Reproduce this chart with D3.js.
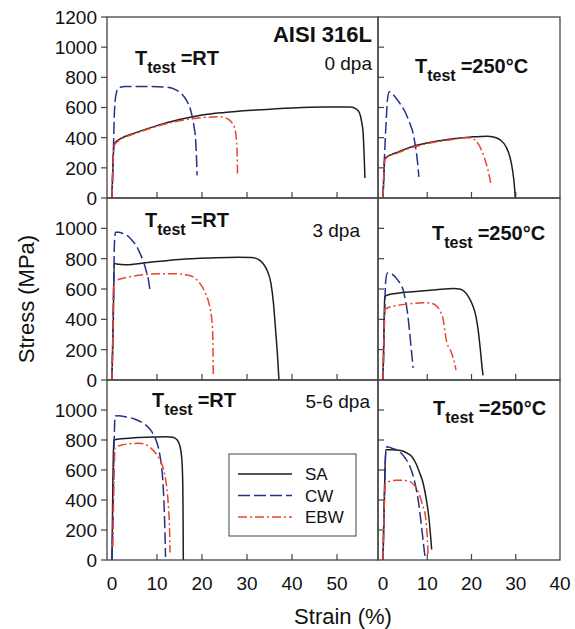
<!DOCTYPE html>
<html>
<head>
<meta charset="utf-8">
<script src="https://cdn.jsdelivr.net/npm/d3@7"></script>
<style>
  body { margin: 0; background: #fff; }
  text { font-family: "Liberation Sans", Arial, sans-serif; fill: #111; }
</style>
</head>
<body>
<div class="chart"></div>
<script>
// strain (%) , stress (MPa)
// 0 dpa
var sa0RT  = [[0,0],[0.2,200],[0.5,360],[2,395],[5,430],[10,480],[15,520],[20,550],[25,567],[32,583],[40,597],[47,603],[53,603],[54.3,590],[55,563],[55.5,500],[55.8,430],[56,300],[56.2,132]];
var cw0RT  = [[0,0],[0.3,300],[0.6,600],[1,700],[1.5,730],[3,740],[8,740],[12,735],[14,720],[15.5,690],[16.5,650],[17.5,580],[18.2,480],[18.6,380],[18.8,250],[18.9,150]];
var ebw0RT = [[0,0],[0.2,200],[0.5,350],[2,390],[5,425],[10,475],[15,512],[20,533],[24,538],[25.5,528],[26.5,505],[27.2,470],[27.6,400],[27.8,300],[27.9,140]];
var sa0HT  = [[0,0],[0.2,150],[0.4,260],[1,275],[3,300],[6,335],[10,365],[15,390],[20,405],[23.5,410],[25,405],[26.5,385],[27.8,340],[28.7,270],[29.3,180],[29.7,80],[29.9,0]];
var cw0HT  = [[0,0],[0.3,250],[0.7,500],[1,650],[1.4,705],[2,695],[3,660],[4,620],[5,570],[6,500],[6.8,430],[7.4,330],[7.8,240],[8.1,140]];
var ebw0HT = [[0,0],[0.2,150],[0.4,250],[1,270],[3,295],[6,330],[10,360],[15,385],[19,400],[20.5,390],[21.5,360],[22.5,300],[23.3,230],[24,150],[24.4,90]];
// 3 dpa
var sa3RT  = [[0,0],[0.3,400],[0.5,770],[1,765],[3,760],[8,775],[15,795],[22,805],[28,810],[31,808],[32.5,795],[33.5,770],[34.5,720],[35.3,640],[35.9,500],[36.3,350],[36.8,150],[37.1,0]];
var cw3RT  = [[0,0],[0.2,300],[0.4,650],[0.55,900],[0.8,975],[1.5,975],[2.5,965],[3.5,950],[4.5,920],[5.5,880],[6.3,830],[7,780],[7.6,720],[8.1,660],[8.4,600]];
var ebw3RT = [[0,0],[0.2,300],[0.4,640],[1,655],[3,675],[6,690],[10,700],[14,700],[17,690],[18.5,670],[19.7,630],[20.8,570],[21.6,500],[22.1,420],[22.4,300],[22.5,20]];
var sa3HT  = [[0,0],[0.2,300],[0.4,550],[1,560],[4,575],[8,585],[12,595],[16,603],[17.5,598],[18.5,580],[19.5,540],[20.3,490],[21,420],[21.5,330],[22,200],[22.4,80],[22.6,30]];
var cw3HT  = [[0,0],[0.3,350],[0.6,650],[1,705],[1.8,700],[2.6,685],[3.3,660],[4,630],[4.6,590],[5.1,520],[5.6,430],[6,320],[6.4,200],[6.8,80]];
var ebw3HT = [[0,0],[0.2,250],[0.4,465],[1,475],[3,490],[6,502],[9,510],[11,505],[12,490],[13,450],[13.6,400],[14,320],[14.4,250],[15,210],[15.6,170],[16.1,120],[16.5,65]];
// 5-6 dpa
var sa6RT  = [[0,0],[0.2,500],[0.4,800],[2,808],[5,815],[9,820],[12,822],[13.5,818],[14.5,800],[15.1,760],[15.5,680],[15.7,550],[15.8,300],[15.85,0]];
var cw6RT  = [[0,0],[0.3,400],[0.5,800],[0.7,960],[1.5,962],[3,955],[5,940],[7,910],[8.5,870],[9.5,820],[10.3,750],[10.9,650],[11.3,530],[11.6,350],[11.8,150],[11.9,20]];
var ebw6RT = [[0.2,90],[0.3,300],[0.5,600],[0.7,750],[2,765],[4,775],[6,778],[7.5,770],[8.5,750],[9.5,720],[10.5,675],[11.3,620],[11.9,540],[12.3,450],[12.6,330],[12.8,200],[12.9,50]];
var sa6HT  = [[0,0],[0.3,400],[0.6,735],[2,735],[4,730],[5.3,715],[6.5,690],[7.5,640],[8.3,580],[9,520],[9.7,420],[10.3,300],[10.7,180],[11,70]];
var cw6HT  = [[0,0],[0.3,400],[0.6,700],[0.9,755],[2,745],[3,735],[4,715],[5,680],[6,630],[7,540],[7.6,460],[8.1,370],[8.6,250],[9.1,120],[9.5,20]];
var ebw6HT = [[0,0],[0.2,250],[0.5,510],[1.5,525],[3,532],[5,530],[6.5,515],[7.5,480],[8.3,430],[9,360],[9.6,290],[9.9,200],[10.1,100],[10.2,20]];

var seriesNames = ["SA", "CW", "EBW"];
var dpaLabels = ["0 dpa", "3 dpa", "5-6 dpa"];
var tempLabels = ["RT", "250°C"];
var xTicksLeft = [0, 10, 20, 30, 40, 50];
var xTicksRight = [0, 10, 20, 30, 40];
var yTicksTop = [0, 200, 400, 600, 800, 1000, 1200];
var yTicksRest = [0, 200, 400, 600, 800, 1000];

var curves = [
  [[sa0RT, cw0RT, ebw0RT], [sa0HT, cw0HT, ebw0HT]],
  [[sa3RT, cw3RT, ebw3RT], [sa3HT, cw3HT, ebw3HT]],
  [[sa6RT, cw6RT, ebw6RT], [sa6HT, cw6HT, ebw6HT]]
];

var colors = { SA: "#1e1e1e", CW: "#23328a", EBW: "#e8452c" };
var dashes = { SA: null, CW: "12,4", EBW: "9,3,2,3" };

var svg = d3.select('.chart').append('svg')
  .attr('width', 575).attr('height', 629);

var rowTop = [17, 198, 380], rowBot = [198, 380, 560];
var xLeft = d3.scaleLinear().domain([-1.1, 59.1]).range([107, 378]);
var xRight = d3.scaleLinear().domain([-1.13, 40]).range([378, 560]);
var xs = [xLeft, xRight];

// label offsets (px) for temperature tags, per row / column
var tagPos = [[[135, 65], [415, 73]], [[145, 227], [432, 240]], [[152, 407], [433, 415]]];
var dpaPos = [[372, 70], [360, 237], [370, 408]];

for (var r = 0; r < 3; r++) {
  var y = d3.scaleLinear().domain([0, 1200]).range([rowBot[r], rowTop[r]]);
  var yt = r == 0 ? yTicksTop : yTicksRest;

  for (var c = 0; c < 2; c++) {
    var x = xs[c];
    var g = svg.append('g');
    var x0 = x.range()[0], x1 = x.range()[1];

    // x ticks inside
    var xt = c == 0 ? xTicksLeft : xTicksRight;
    g.selectAll('.xt').data(xt.filter(function(d) { return d > 0 && x(d) < x1 - 2; }))
      .enter().append('line')
      .attr('x1', function(d) { return x(d); }).attr('x2', function(d) { return x(d); })
      .attr('y1', rowBot[r]).attr('y2', rowBot[r] - 6)
      .attr('stroke', '#444').attr('stroke-width', 1.2);

    if (c == 0) {
      // y ticks outside with labels
      g.selectAll('.yt').data(yt).enter().append('line')
        .attr('x1', x0 - 6).attr('x2', x0)
        .attr('y1', function(d) { return y(d); }).attr('y2', function(d) { return y(d); })
        .attr('stroke', '#444').attr('stroke-width', 1.2);
      g.selectAll('.yl').data(yt).enter().append('text')
        .attr('x', 97).attr('y', function(d) { return y(d); })
        .attr('dy', '0.36em').attr('text-anchor', 'end')
        .style('font-size', '19px')
        .text(function(d) { return d; });
    } else {
      g.selectAll('.yt').data(yt.filter(function(d) { return d > 0 && d < 1200; })).enter().append('line')
        .attr('x1', x0).attr('x2', x0 + 6)
        .attr('y1', function(d) { return y(d); }).attr('y2', function(d) { return y(d); })
        .attr('stroke', '#444').attr('stroke-width', 1.2);
    }

    if (r == 2) {
      g.selectAll('.xl').data(xt).enter().append('text')
        .attr('x', function(d) { return x(d); }).attr('y', 590)
        .attr('text-anchor', 'middle')
        .style('font-size', '19px')
        .text(function(d) { return d; });
    }

    // curves
    var line = d3.line()
      .x(function(d) { return x(d[0]); })
      .y(function(d) { return y(d[1]); })
      .curve(d3.curveMonotoneX);

    curves[r][c].forEach(function(pts, i) {
      var name = seriesNames[i];
      g.append('path')
        .attr('d', line(pts))
        .attr('fill', 'none')
        .attr('stroke', colors[name])
        .attr('stroke-width', 1.5)
        .attr('stroke-dasharray', dashes[name]);
    });

    // frame
    g.append('rect')
      .attr('x', x0).attr('y', rowTop[r])
      .attr('width', x1 - x0).attr('height', rowBot[r] - rowTop[r])
      .attr('fill', 'none').attr('stroke', '#444').attr('stroke-width', 1.3);

    // temperature tag
    var tp = tagPos[r][c];
    var t = g.append('text').attr('x', tp[0]).attr('y', tp[1])
      .style('font-weight', 'bold').style('font-size', '20px');
    t.append('tspan').text('T');
    t.append('tspan').attr('dy', 8).style('font-size', '16px').text('test');
    t.append('tspan').attr('dy', -8).attr('dx', 5).text('=' + tempLabels[c]);
  }

  svg.append('text')
    .attr('x', dpaPos[r][0]).attr('y', dpaPos[r][1])
    .attr('text-anchor', 'end')
    .style('font-size', '19px')
    .text(dpaLabels[r]);
}

svg.append('text')
  .attr('x', 372).attr('y', 42)
  .attr('text-anchor', 'end')
  .style('font-weight', 'bold').style('font-size', '22px')
  .text('AISI 316L');

// axis titles
svg.append('text')
  .attr('x', 343).attr('y', 624)
  .attr('text-anchor', 'middle')
  .style('font-size', '22px')
  .text('Strain (%)');

svg.append('text')
  .attr('transform', 'translate(34,299) rotate(-90)')
  .attr('text-anchor', 'middle')
  .style('font-size', '22px')
  .text('Stress (MPa)');

// legend
var leg = svg.append('g');
leg.append('rect')
  .attr('x', 229).attr('y', 454).attr('width', 127).attr('height', 82)
  .attr('fill', '#fff').attr('stroke', '#555').attr('stroke-width', 1.1);

var legItems = leg.selectAll('.legend').data(seriesNames).enter().append('g')
  .attr('transform', function(d, i) { return 'translate(0,' + (474 + i * 21.5) + ')'; });

legItems.append('line')
  .attr('x1', 238).attr('x2', 292).attr('y1', 0).attr('y2', 0)
  .attr('stroke', function(d) { return colors[d]; })
  .attr('stroke-width', 1.3)
  .attr('stroke-dasharray', function(d) { return dashes[d]; });

legItems.append('text')
  .attr('x', 305).attr('y', 0).attr('dy', '0.36em')
  .style('font-size', '17px')
  .text(function(d) { return d; });
</script>
</body>
</html>
